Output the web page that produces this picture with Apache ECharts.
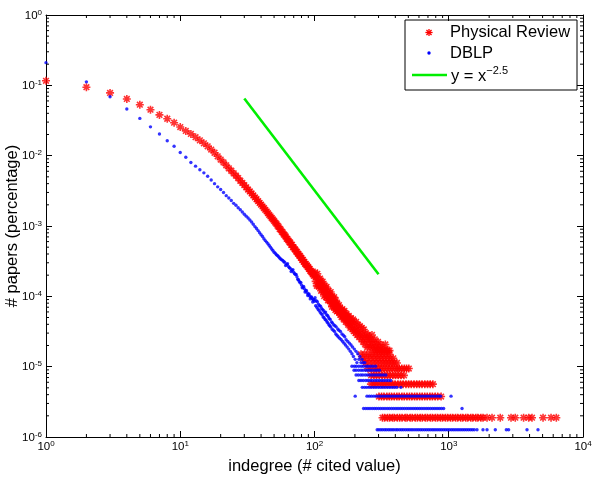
<!DOCTYPE html>
<html lang="en">
<head>
  <meta charset="UTF-8">
  <title>Indegree distribution: Physical Review vs DBLP</title>
  <script src="https://cdn.jsdelivr.net/npm/echarts@6.0.0/dist/echarts.min.js"></script>
  <style>html, body { margin: 0; padding: 0; background: #fff; }</style>
</head>
<body>
  <div id="main" style="width: 592px; height: 478px;"></div>

  <script>
    // ---- Physical Review: share of papers per indegree ----
    const prHead = [
      [1,0.116],[2,0.094],[3,0.078],[4,0.064],[5,0.053],[6,0.045],[7,0.038],[8,0.0335],[9,0.0294],[10,0.0255],
      [11,0.0225],[12,0.0204],[13,0.0183],[14,0.0165],[15,0.0150],[16,0.0136],[17,0.0122],[18,0.0110],[19,0.0098],[20,0.0088],
      [21,0.0080],[22,0.0073],[23,0.0066],[24,0.0061],[25,0.0056],[26,0.0052],[27,0.0048],[28,0.0044],[29,0.0041],[30,0.0038],
      [31,0.00355],[32,0.0033],[33,0.0031],[34,0.0029],[35,0.00272],[36,0.00255],[37,0.0024],[38,0.00226],[39,0.00213],[40,0.00201],
      [41,0.0019],[42,0.0018],[43,0.0017],[44,0.00161],[45,0.00152],[46,0.00144],[47,0.00137],[48,0.0013],[49,0.00124],[50,0.00118],
      [51,0.00112],[52,0.00108],[53,0.00101],[54,0.00098],[55,0.00091],[56,0.00089],[57,0.00083],[58,0.00081],[59,0.00076],[60,0.00074],
      [61,0.00071],[62,0.00066],[63,0.00065],[64,0.00062],[65,0.00059],[66,0.00058],[67,0.00054],[68,0.00054],[69,0.0005],[70,0.000495],
      [71,0.00047],[72,0.00046],[73,0.000435],[74,0.00043],[75,0.000405],[76,0.0004],[77,0.00038],[78,0.000375],[79,0.000355],[80,0.00035],
      [81,0.00033],[82,0.00033],[83,0.00031],[84,0.00031],[85,0.00029],[86,0.00029],[87,0.000275],[88,0.000275],[89,0.00026],[90,0.00026],
      [91,0.000245],[92,0.000245],[93,0.00023],[94,0.00023],[95,0.00022],[96,0.00022],[97,0.000205],[98,0.00021],[99,0.000195],[100,0.0002],
      [101,0.000219],[102,0.000163],[103,0.000189],[104,0.000141],[105,0.000209],[106,0.000159],[107,0.000139],[108,0.000175],[109,0.00014],[110,0.000179],
      [111,0.000148],[112,0.00012],[113,0.000158],[114,0.000127],[115,0.000162],[116,0.000114],[117,0.000134],[118,0.000101],[119,0.000143],[120,0.000115],
      [121,0.000127],[122,0.000097],[123,0.000136],[124,0.0001],[125,0.000111],[126,0.000088],[127,0.000121],[128,0.000098],[129,0.000087],[130,0.000108],
      [131,0.000089],[132,0.000115],[133,0.000079],[134,0.000096],[135,0.000071],[136,0.0001],[137,0.000081],[138,0.000091],[139,0.000071],[140,0.000097],
      [141,0.000072],[142,0.000081],[143,0.000064],[144,0.000088],[145,0.00007],[146,0.000077],[147,0.000061],[148,0.000079],[149,0.000062],[150,0.000068]
    ];
    // share of one single paper, and [indegree, papers] further out
    const prShare = 1.88e-6;
    const prTail = [
      [152,40],[153,31],[155,36],[156,29],[158,34],[159,27],[161,35],[162,28],[164,31],[165,25],[167,33],[168,26],[170,29],[171,23],
      [173,30],[175,24],[176,27],[178,21],[180,28],[181,22],[183,25],[185,19],[187,26],[188,20],[190,23],[192,18],[194,25],[196,17],
      [198,22],[200,19],[202,16],[204,23],[206,18],[208,15],[211,21],[213,17],[215,14],[218,20],[220,16],[223,13],[225,19],[228,15],
      [230,12],[233,18],[236,14],[238,11],[241,16],[244,13],[247,10],[250,15],[253,12],[256,14],[259,10],[262,13],[265,11],[268,15],
      [271,10],[274,12],[278,9],[281,13],[285,10],[289,11],[293,9],[297,12],[302,10],[306,9],[311,11],[317,9],[323,10],[330,9],
      [337,11],[345,9],[352,9],[362,9]
    ];
    // indegrees cited by exactly 1..8 papers
    const prOne = [321,333,350,363,381,393,414,431,449,474,489,516,534,563,584,613,635,669,693,730,756,796,825,868,899,945,981,
      1031,1069,1125,1166,1228,1271,1339,1385,1461,1511,1592,1647,1736,1800,1928,2100,2420,2910,3130,3610,3940,4170,5040,5780,6330];
    const prTwo = [302,316,329,346,361,375,393,411,427,448,466,488,510,531,557,580,607,634,662,692,724,755,792,827,877];
    const prThree = [263,276,288,303,318,332,348,365,382,398,418,437,457,480,502,526,551,577,605,632,663,695,728,762];
    const prFour = [264,277,289,304,319,333,350,366,383,401,421,441,464];
    const prFive = [250,268,285,300,314,329,345,361,378,395,414,427,447,467,485,504];
    const prSix = [239,256,274,291,308,325,341,358,376,393,411];
    const prSeven = [229,244,261,278,295,312,330,349,368,386];
    const prEight = [222,236,252,267,285,303,321,340,361];

    // ---- DBLP ----
    const dblpHead = [
      [1,0.21],[2,0.112],[3,0.0687],[4,0.046],[5,0.0339],[6,0.0257],[7,0.0203],[8,0.0163],[9,0.0136],[10,0.0111],
      [11,0.0095],[12,0.008],[13,0.0071],[14,0.0063],[15,0.0057],[16,0.0051],[17,0.0045],[18,0.004],[19,0.0036],[20,0.0033],
      [21,0.003],[22,0.0027],[23,0.0025],[24,0.0023],[25,0.0021],[26,0.00197],[27,0.00182],[28,0.0017],[29,0.00158],[30,0.00147],
      [31,0.00138],[32,0.0013],[33,0.00122],[34,0.00114],[35,0.00106],[36,0.00098],[37,0.00092],[38,0.00086],[39,0.0008],[40,0.00075],
      [41,0.00071],[42,0.00066],[43,0.00062],[44,0.00059],[45,0.00056],[46,0.00053],[47,0.0005],[48,0.00047],[49,0.00045],[50,0.000425],
      [51,0.00041],[52,0.00039],[53,0.00038],[54,0.000365],[55,0.00035],[56,0.00034],[57,0.00033],[58,0.000325],[59,0.00031],[60,0.000305],
      [61,0.000275],[62,0.000285],[63,0.00029],[64,0.000265],[65,0.000255],[66,0.00025],[67,0.000225],[68,0.000235],[69,0.00024],[70,0.00022],
      [71,0.00021],[72,0.000205],[73,0.000205],[74,0.00019],[75,0.000175],[76,0.000172],[77,0.000163],[78,0.000156],[79,0.000158],[80,0.000145],
      [81,0.000132],[82,0.000136],[83,0.000138],[84,0.000128],[85,0.000115],[86,0.00012],[87,0.000121],[88,0.000113],[89,0.000103],[90,0.000107],
      [91,0.000108],[92,0.000101],[93,0.000092],[94,0.000097],[95,0.000098],[96,0.000093],[97,0.000083],[98,0.000089],[99,0.00009],[100,0.000085]
    ];
    const dblpShare = 1.27e-6;
    const dblpTail = [
      [101,75],[102,58],[103,68],[104,55],[105,66],[106,52],[107,61],[108,50],[109,58],[110,47],[111,57],[112,45],[113,53],[114,43],
      [115,51],[116,40],[117,49],[118,39],[119,46],[120,37],[121,47],[122,36],[123,43],[124,34],[125,42],[126,33],[127,40],[128,31],
      [129,38],[130,30],[131,37],[132,29],[134,34],[135,27],[136,33],[138,26],[139,31],[141,25],[142,30],[144,23],[145,29],[147,22],
      [149,27],[150,21],[152,26],[154,20],[156,25],[158,19],[160,23],[162,18],[164,22],[166,17],[168,21],[170,16],[172,19],[175,15],
      [177,18],[180,14],[182,17],[185,13],[187,16],[190,12],[192,15],[195,11],[198,14],[201,10],[204,13],[207,9],[210,12],[214,10],
      [218,11],[222,9],[226,10],[231,9],[237,9]
    ];
    const dblpOne = [293,302,312,322,333,343,355,366,378,390,404,416,431,445,459,475,491,507,524,541,560,579,598,618,638,660,682,
      705,728,753,777,803,830,858,886,916,946,978,1010,1045,1079,1115,1153,1191,1231,1272,1314,1358,1404,1451,1499,1549,
      1623,1799,1928,2222,2685,2792,3828,4621];
    const dblpTwo = [232,241,250,259,269,279,289,300,311,323,335,348,361,375,389,404,419,435,451,468,486,504,523,543,564,585,607,
      630,654,679,704,731,759,788,818,849,882,916,1256];
    const dblpThree = [201,246,256,266,277,288,300,312,325,338,352,366,381,396,412,429,446,464,483,503,523,544,566,589,613,638,
      664,691,719,748,778,810,843,869,1040];
    const dblpFour = [227,236,245,255,265,276,287,299,311,323,336,350,364,379,394,410,440];
    const dblpFive = [214,222,231,241,250,260,270,282,293,305,317,329,343,356,370];
    const dblpSix = [204,212,221,229,239,248,258,268,279,290,302,314,327,340];
    const dblpSeven = [197,204,213,222,230,240,249,259,269,281,292,305];
    const dblpEight = [190,198,205,214,223,231,241,250,261,272,285];

    // reference power law y = x^-2.5 (shifted)
    const fitLine = [[30, 0.065], [300, 0.000206]];

    const FONT = '"Liberation Sans", Arial, Helvetica, sans-serif';
    const STAR = 'path://M8 0L12 0L12 20L8 20Z M0 8L20 8L20 12L0 12Z ' +
      'M1.52 4.34L4.34 1.52L18.48 15.66L15.66 18.48Z M15.66 1.52L18.48 4.34L4.34 18.48L1.52 15.66Z';

    function buildPoints(head, tail, levels, share) {
      const pts = head.slice();
      tail.forEach(([x, n]) => pts.push([x, n * share]));
      levels.forEach((xs, i) => xs.forEach(x => pts.push([x, (i + 1) * share])));
      return pts;
    }
    const prPoints = buildPoints(prHead, prTail,
      [prOne, prTwo, prThree, prFour, prFive, prSix, prSeven, prEight], prShare);
    const dblpPoints = buildPoints(dblpHead, dblpTail,
      [dblpOne, dblpTwo, dblpThree, dblpFour, dblpFive, dblpSix, dblpSeven, dblpEight], dblpShare);

    // minor tick positions (2..9 of each decade)
    const minorX = [];
    for (let d = 1; d < 10000; d *= 10) for (let k = 2; k <= 9; k++) minorX.push([k * d, 1]);
    const minorY = [];
    for (let e = -6; e < 0; e++) for (let k = 2; k <= 9; k++) minorY.push([1, k * Math.pow(10, e)]);

    const powLabel = v => '{b|10}{e|' + Math.round(Math.log10(v)) + '}';
    const labelRich = pad => ({
      b: { fontSize: 11.5, fontFamily: FONT, color: '#000', lineHeight: 13, padding: [pad, 0, 0, 0], verticalAlign: 'bottom' },
      e: { fontSize: 8, fontFamily: FONT, color: '#000', lineHeight: 9, verticalAlign: 'top' }
    });
    const frame = { show: true, lineStyle: { color: '#000', width: 1 } };
    const majorTick = { show: true, inside: true, length: 6, lineStyle: { color: '#000', width: 1 } };

    // legend asterisk drawn from short strokes
    const starIcon = (cx, cy, r) => [0, 45, 90, 135].map(a => {
      const dx = r * Math.cos(a * Math.PI / 180), dy = r * Math.sin(a * Math.PI / 180);
      return { type: 'line', shape: { x1: cx - dx, y1: cy - dy, x2: cx + dx, y2: cy + dy }, style: { stroke: '#ff0000', lineWidth: 1.3 } };
    });

    const myChart = echarts.init(document.getElementById('main'));

    const options = {
      animation: false,
      backgroundColor: '#fff',
      grid: { left: 46, right: 9, top: 15, bottom: 41, outerBoundsMode: 'none' },
      xAxis: [{
        type: 'log', logBase: 10, min: 1, max: 10000, position: 'bottom',
        axisLine: frame, axisTick: majorTick, splitLine: { show: false }, minorTick: { show: false },
        axisLabel: { formatter: powLabel, rich: labelRich(4), margin: 3 },
        name: 'indegree (# cited value)', nameLocation: 'middle', nameGap: 21, nameMoveOverlap: false,
        nameTextStyle: { fontSize: 16.5, fontFamily: FONT, color: '#000' }
      }, {
        type: 'log', logBase: 10, min: 1, max: 10000, position: 'top',
        axisLine: frame, axisTick: majorTick, splitLine: { show: false }, axisLabel: { show: false }
      }],
      yAxis: [{
        type: 'log', logBase: 10, min: 1e-6, max: 1, splitNumber: 6, position: 'left',
        axisLine: frame, axisTick: majorTick, splitLine: { show: false }, minorTick: { show: false },
        axisLabel: { formatter: powLabel, rich: labelRich(3), margin: 4 },
        name: '# papers (percentage)', nameLocation: 'middle', nameGap: 25, nameRotate: 90, nameMoveOverlap: false,
        nameTextStyle: { fontSize: 16.5, fontFamily: FONT, color: '#000' }
      }, {
        type: 'log', logBase: 10, min: 1e-6, max: 1, splitNumber: 6, position: 'right',
        axisLine: frame, axisTick: majorTick, splitLine: { show: false }, axisLabel: { show: false }
      }],
      series: [{
        name: 'Physical Review', type: 'scatter', data: prPoints,
        symbol: STAR, symbolSize: 8, itemStyle: { color: '#ff0000' }, silent: true
      }, {
        name: 'DBLP', type: 'scatter', data: dblpPoints,
        symbol: 'circle', symbolSize: 3.4, itemStyle: { color: '#0000ff' }, silent: true
      }, {
        name: 'y = x^-2.5', type: 'line', data: fitLine, symbol: 'none',
        lineStyle: { color: '#00ee00', width: 2.6 }, silent: true
      }, {
        type: 'custom', data: minorX, silent: true, z: 5,
        renderItem: (params, api) => {
          const cs = params.coordSys;
          const x = api.coord([api.value(0), api.value(1)])[0];
          const b = cs.y + cs.height;
          return { type: 'group', children: [
            { type: 'line', shape: { x1: x, y1: b, x2: x, y2: b - 3 }, style: { stroke: '#000', lineWidth: 1 } },
            { type: 'line', shape: { x1: x, y1: cs.y, x2: x, y2: cs.y + 3 }, style: { stroke: '#000', lineWidth: 1 } }
          ] };
        }
      }, {
        type: 'custom', data: minorY, silent: true, z: 5,
        renderItem: (params, api) => {
          const cs = params.coordSys;
          const y = api.coord([api.value(0), api.value(1)])[1];
          const r = cs.x + cs.width;
          return { type: 'group', children: [
            { type: 'line', shape: { x1: cs.x, y1: y, x2: cs.x + 3, y2: y }, style: { stroke: '#000', lineWidth: 1 } },
            { type: 'line', shape: { x1: r, y1: y, x2: r - 3, y2: y }, style: { stroke: '#000', lineWidth: 1 } }
          ] };
        }
      }],
      // boxed legend, MATLAB style
      graphic: [{
        type: 'group', z: 100, children: [
          { type: 'rect', shape: { x: 405, y: 20, width: 172, height: 70 }, style: { fill: '#fff', stroke: '#000', lineWidth: 1 } },
          ...starIcon(429, 32.5, 3.6),
          { type: 'circle', shape: { cx: 429, cy: 53, r: 1.7 }, style: { fill: '#0000ff' } },
          { type: 'line', shape: { x1: 412, y1: 75, x2: 447, y2: 75 }, style: { stroke: '#00ee00', lineWidth: 2.6 } },
          { type: 'text', x: 450, y: 32.5, style: { text: 'Physical Review', font: '16.5px ' + FONT, fill: '#000', verticalAlign: 'middle' } },
          { type: 'text', x: 450, y: 53, style: { text: 'DBLP', font: '16.5px ' + FONT, fill: '#000', verticalAlign: 'middle' } },
          { type: 'text', x: 451, y: 75, style: {
            text: '{n|y = x}{s|\u22122.5}', verticalAlign: 'middle',
            rich: {
              n: { fontSize: 16.5, fontFamily: FONT, fill: '#000', lineHeight: 19, padding: [3, 0, 0, 0], verticalAlign: 'bottom' },
              s: { fontSize: 11, fontFamily: FONT, fill: '#000', lineHeight: 12, verticalAlign: 'top' }
            }
          } }
        ]
      }]
    };

    myChart.setOption(options);
  </script>
</body>
</html>
